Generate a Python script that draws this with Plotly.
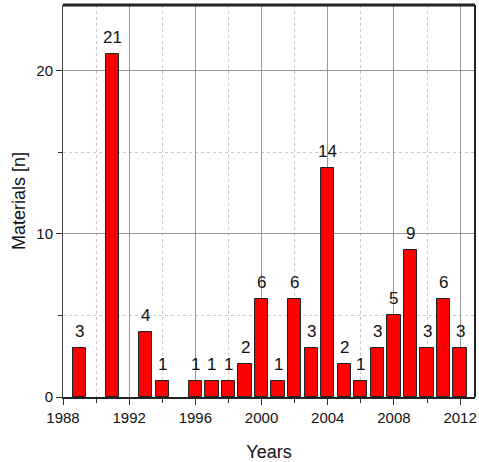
import plotly.graph_objects as go

years = [1989, 1991, 1993, 1994, 1996, 1997, 1998, 1999, 2000, 2001, 2002,
         2003, 2004, 2005, 2006, 2007, 2008, 2009, 2010, 2011, 2012]
counts = [3, 21, 4, 1, 1, 1, 1, 2, 6, 1, 6, 3, 14, 2, 1, 3, 5, 9, 3, 6, 3]
x_ticks = [1988, 1992, 1996, 2000, 2004, 2008, 2012]
y_ticks = [0, 10, 20]

fig = go.Figure()
fig.add_trace(go.Bar(
    x=years, y=counts, width=0.8,
    marker=dict(color="#ff0000", line=dict(color="#222222", width=1)),
))
for xv, yv in zip(years, counts):
    fig.add_annotation(x=xv, y=yv, text=str(yv), showarrow=False,
                       yanchor="bottom", yshift=5,
                       font=dict(size=17, color="#111111", family="Liberation Sans"))

fig.update_layout(
    width=479, height=462,
    margin=dict(l=63, r=4, t=5, b=65),
    plot_bgcolor="white", paper_bgcolor="white",
    showlegend=False,
    font=dict(family="Liberation Sans", size=14, color="#111111"),
    bargap=0,
)
fig.update_xaxes(
    range=[1988, 2012.9], tickvals=x_ticks, ticktext=[str(t) for t in x_ticks],
    ticks="outside", ticklen=6, tickcolor="#333333",
    tickfont=dict(size=15),
    showgrid=True, gridcolor="#999999", gridwidth=1,
    minor=dict(tickvals=[1990, 1994, 1998, 2002, 2006, 2010], ticks="outside", ticklen=4,
               tickcolor="#333333", showgrid=True, gridcolor="#c8c8c8", griddash="dot"),
    showline=True, linecolor="#222222", linewidth=1.5, mirror=False,
    title=dict(text="Years", font=dict(size=18), standoff=22),
    zeroline=False, automargin=False,
)
fig.update_yaxes(
    range=[0, 24], tickvals=y_ticks,
    ticks="outside", ticklen=6, tickcolor="#333333",
    tickfont=dict(size=15),
    showgrid=True, gridcolor="#999999", gridwidth=1,
    minor=dict(tickvals=[5, 15], ticks="outside", ticklen=4, tickcolor="#333333",
               showgrid=True, gridcolor="#c8c8c8", griddash="dot"),
    showline=True, linecolor="#444444", linewidth=1,
    title=dict(text="Materials [n]", font=dict(size=18), standoff=6),
    zeroline=False, automargin=False,
)
# top and right frame
fig.add_shape(type="line", xref="paper", yref="paper", x0=0, x1=1, y0=1, y1=1,
              line=dict(color="#222222", width=3))
fig.add_shape(type="line", xref="paper", yref="paper", x0=1, x1=1, y0=0, y1=1,
              line=dict(color="#222222", width=2))

fig.write_html("out.html", config={"displayModeBar": False},
               post_script="document.body.style.margin='0';document.body.style.overflow='hidden';")
